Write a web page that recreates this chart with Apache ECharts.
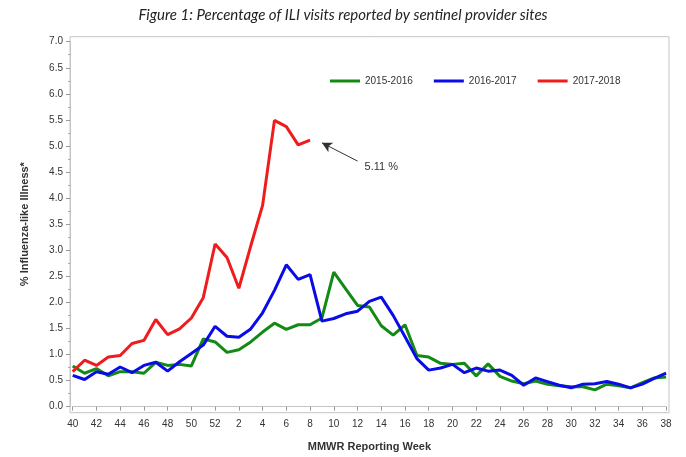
<!DOCTYPE html>
<html>
<head>
<meta charset="utf-8">
<script src="https://cdn.jsdelivr.net/npm/echarts@6/dist/echarts.min.js"></script>
<style>
  html, body { margin: 0; padding: 0; background: #fff; }
  #chart-container { width: 686px; height: 457px; }
</style>
</head>
<body>
<div id="chart-container"></div>
<script>
// MMWR weeks, season runs from week 40 to week 38 of the next year
const weeks = ['40', '41', '42', '43', '44', '45', '46', '47', '48', '49', '50', '51', '52',
  '1', '2', '3', '4', '5', '6', '7', '8', '9', '10', '11', '12', '13', '14', '15', '16', '17', '18', '19',
  '20', '21', '22', '23', '24', '25', '26', '27', '28', '29', '30', '31', '32', '33', '34', '35', '36', '37', '38'];

const season1516 = [0.78, 0.64, 0.73, 0.59, 0.67, 0.67, 0.64, 0.85, 0.79, 0.81, 0.78, 1.30, 1.24,
  1.04, 1.09, 1.24, 1.43, 1.60, 1.48, 1.57, 1.57, 1.70, 2.58, 2.26, 1.94, 1.91, 1.55, 1.37, 1.57, 0.98, 0.95, 0.83,
  0.81, 0.83, 0.59, 0.82, 0.58, 0.49, 0.44, 0.49, 0.43, 0.40, 0.38, 0.38, 0.32, 0.43, 0.40, 0.36, 0.46, 0.55, 0.57];

const season1617 = [0.60, 0.52, 0.67, 0.62, 0.76, 0.65, 0.79, 0.85, 0.68, 0.86, 1.02, 1.18, 1.54,
  1.35, 1.33, 1.49, 1.80, 2.23, 2.72, 2.44, 2.53, 1.64, 1.69, 1.78, 1.83, 2.02, 2.10, 1.75, 1.34, 0.92, 0.70, 0.74,
  0.81, 0.65, 0.74, 0.68, 0.70, 0.60, 0.41, 0.55, 0.48, 0.41, 0.36, 0.43, 0.44, 0.48, 0.43, 0.36, 0.43, 0.54, 0.64];

// current season, reported through week 8
const season1718 = [0.67, 0.89, 0.79, 0.95, 0.98, 1.21, 1.27, 1.67, 1.38, 1.49, 1.70, 2.09, 3.12,
  2.86, 2.27, 3.08, 3.86, 5.49, 5.37, 5.02, 5.11];

const seasonNames = ['2015-2016', '2016-2017', '2017-2018'];
const seasonColors = ['#138a13', '#0b0be8', '#ee1c1c'];

// arrow pointing at latest value (category index, value)
const arrowFrom = [24.2, 4.71];
const arrowTo = [21.45, 5.06];
const noteAt = [25.85, 4.59];

const lastValue = season1718[season1718.length - 1];
const tickFont = 'Liberation Sans';

function makeSeries(name, data, color, extra) {
    return Object.assign({
        name: name,
        type: 'line',
        data: data,
        symbol: 'none',
        lineStyle: { width: 3, color: color },
        itemStyle: { color: color },
        emphasis: { disabled: true },
        animation: false
    }, extra || {});
}

const myChart = echarts.init(document.getElementById('chart-container'));

const option = {
    animation: false,
    title: {
        text: 'Figure 1: Percentage of ILI visits reported by sentinel provider sites',
        left: 'center',
        top: 3,
        textStyle: { fontFamily: 'Lato', fontStyle: 'italic', fontWeight: 'normal', fontSize: 15, color: '#222' }
    },
    legend: {
        left: 325,
        top: 71,
        icon: 'rect',
        itemWidth: 30,
        itemHeight: 3,
        itemGap: 21,
        textStyle: { fontFamily: tickFont, fontSize: 10, color: '#333' },
        data: seasonNames
    },
    grid: { left: 72.7, right: 19.9, top: 41.7, bottom: 48.7, containLabel: false },
    graphic: [{
        type: 'rect',
        shape: { x: 70, y: 36.7, width: 599, height: 376 },
        style: { fill: 'none', stroke: '#c4c4c4', lineWidth: 1 },
        silent: true
    }],
    xAxis: {
        type: 'category',
        data: weeks,
        boundaryGap: false,
        offset: 4.4,
        name: 'MMWR Reporting Week',
        nameLocation: 'middle',
        nameGap: 30,
        nameTextStyle: { fontFamily: tickFont, fontWeight: 'bold', fontSize: 11, color: '#333' },
        axisLine: { lineStyle: { color: '#c4c4c4' } },
        axisTick: { interval: 1, length: 4, lineStyle: { color: '#999' } },
        axisLabel: { interval: 1, margin: 8, fontFamily: tickFont, fontSize: 10, color: '#333' },
        splitLine: { show: false }
    },
    yAxis: {
        type: 'value',
        min: 0,
        max: 7,
        interval: 0.5,
        offset: 2.7,
        name: '% Influenza-like Illness*',
        nameLocation: 'middle',
        nameGap: 40,
        nameTextStyle: { fontFamily: tickFont, fontWeight: 'bold', fontSize: 11, color: '#333' },
        axisLine: { show: true, lineStyle: { color: '#c4c4c4' } },
        axisTick: { show: true, length: 4, lineStyle: { color: '#999' } },
        minorTick: { show: true, splitNumber: 2, length: 2, lineStyle: { color: '#aaa' } },
        axisLabel: {
            margin: 7, fontFamily: tickFont, fontSize: 10, color: '#333',
            formatter: v => v.toFixed(1)
        },
        splitLine: { show: false }
    },
    series: [
        makeSeries(seasonNames[0], season1516, seasonColors[0]),
        makeSeries(seasonNames[1], season1617, seasonColors[1]),
        makeSeries(seasonNames[2], season1718, seasonColors[2], {
            markLine: {
                silent: true,
                symbol: ['none', 'arrow'],
                symbolSize: [8, 10],
                lineStyle: { color: '#333', width: 1, type: 'solid' },
                label: { show: false },
                data: [[{ coord: arrowFrom }, { coord: arrowTo }]]
            },
            markPoint: {
                silent: true,
                symbol: 'circle',
                symbolSize: 0,
                label: {
                    show: true,
                    formatter: lastValue.toFixed(2) + ' %',
                    fontFamily: tickFont,
                    fontSize: 11,
                    color: '#333'
                },
                data: [{ coord: noteAt }]
            }
        })
    ]
};

myChart.setOption(option);
</script>
</body>
</html>
